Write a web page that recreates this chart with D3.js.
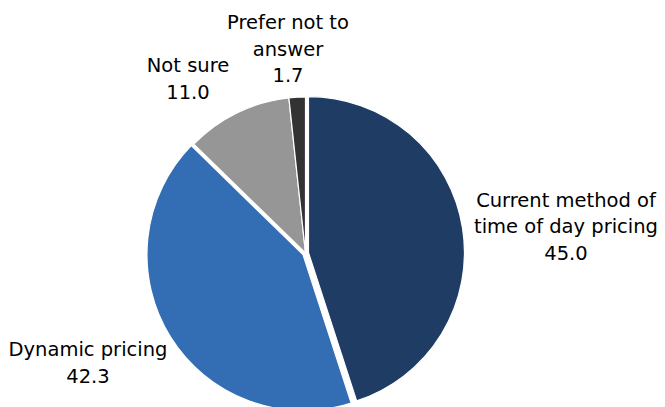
<!DOCTYPE html>
<html>
<head>
<meta charset="utf-8">
<script src="https://cdn.jsdelivr.net/npm/d3@7"></script>
<style>
  html, body { margin: 0; padding: 0; background: #ffffff; }
  svg { display: block; }
  text { font-family: "DejaVu Sans", Verdana, sans-serif; fill: #000; }
</style>
</head>
<body>
<svg id="chart" width="665" height="407"></svg>
<script>
// ---- data ----
const categories = ["Current method of time of day pricing", "Dynamic pricing", "Not sure", "Prefer not to answer"];
const values = [45.0, 42.3, 11.0, 1.7];
const labelLines = [
  ["Current method of", "time of day pricing"],
  ["Dynamic pricing"],
  ["Not sure"],
  ["Prefer not to", "answer"]
];
const colors = ["#1f3c64", "#336db3", "#969696", "#333333"];

// ---- layout (not data) ----
const cx = 305.5, cy = 253, radius = 156;
const explode = [3, 3, 0, 0];
const labelPos = [
  { x: 566, y: 206.7 },
  { x: 88,  y: 356 },
  { x: 188, y: 72 },
  { x: 288, y: 29 }
];
const lineH = 26.7;

const svg = d3.select("#chart");
const g = svg.append("g").attr("transform", `translate(${cx},${cy})`);

const pie = d3.pie().sort(null).value(d => d)
  .startAngle(0).endAngle(2 * Math.PI);
const arcs = pie(values);
const arc = d3.arc().innerRadius(0).outerRadius(radius);

g.selectAll("path.slice")
  .data(arcs)
  .join("path")
  .attr("class", "slice")
  .attr("d", arc)
  .attr("fill", (d, i) => colors[i])
  .attr("stroke", "#ffffff")
  .attr("stroke-width", 1.2)
  .attr("stroke-linejoin", "round")
  .attr("transform", (d, i) => {
    const a = (d.startAngle + d.endAngle) / 2;
    const e = explode[i];
    return `translate(${e * Math.sin(a)},${-e * Math.cos(a)})`;
  });

const fmt = d3.format(".1f");
const labels = svg.selectAll("text.lbl")
  .data(arcs)
  .join("text")
  .attr("class", "lbl")
  .attr("text-anchor", "middle")
  .style("font-size", "19.5px");

labels.each(function (d, i) {
  const t = d3.select(this);
  const lines = labelLines[i].concat([fmt(values[i])]);
  lines.forEach((s, k) => {
    t.append("tspan")
      .attr("x", labelPos[i].x)
      .attr("y", labelPos[i].y + k * lineH)
      .text(s);
  });
});
</script>
</body>
</html>
